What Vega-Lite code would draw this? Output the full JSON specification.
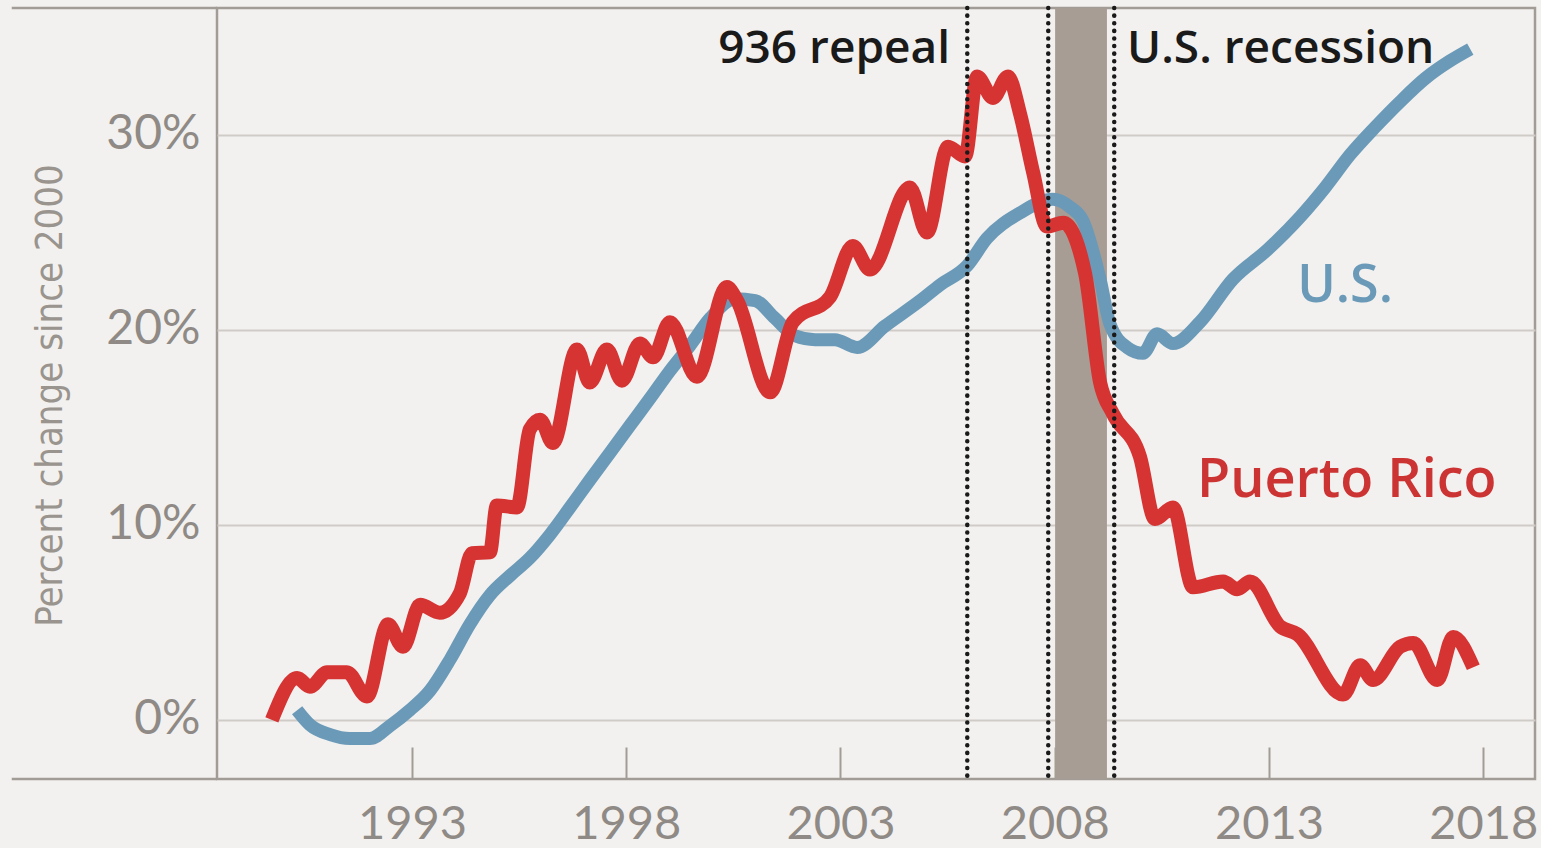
{
  "$schema": "https://vega.github.io/schema/vega-lite/v6.json",
  "width": 1318,
  "height": 771,
  "autosize": {"type": "none"},
  "padding": {"left": 217, "top": 8, "right": 6, "bottom": 69},
  "background": "#f2f1ef",
  "config": {
    "view": {"stroke": "#a29c96", "strokeWidth": 2.5, "fill": "#f2f1ef"},
    "axis": {"labelFont": "Lato", "labelColor": "#8f8a85", "labelFontSize": 48}
  },
  "datasets": {
    "us": [
      {"year": 1990.32, "value": 0.5}, {"year": 1990.62, "value": -0.25}, {"year": 1991.09, "value": -0.75},
      {"year": 1991.55, "value": -0.95}, {"year": 1992.02, "value": -0.95}, {"year": 1992.49, "value": -0.3},
      {"year": 1992.95, "value": 0.5}, {"year": 1993.42, "value": 1.5}, {"year": 1993.89, "value": 3.1},
      {"year": 1994.35, "value": 4.9}, {"year": 1994.82, "value": 6.4}, {"year": 1995.29, "value": 7.4},
      {"year": 1995.75, "value": 8.3}, {"year": 1996.22, "value": 9.5}, {"year": 1996.69, "value": 10.9},
      {"year": 1997.15, "value": 12.3}, {"year": 1997.62, "value": 13.7}, {"year": 1998.09, "value": 15.1},
      {"year": 1998.56, "value": 16.5}, {"year": 1999.02, "value": 17.9}, {"year": 1999.49, "value": 19.2},
      {"year": 1999.96, "value": 20.6}, {"year": 2000.54, "value": 21.6}, {"year": 2001.01, "value": 21.5},
      {"year": 2001.47, "value": 20.6}, {"year": 2001.94, "value": 19.7}, {"year": 2002.41, "value": 19.5},
      {"year": 2002.87, "value": 19.5}, {"year": 2003.39, "value": 19.1}, {"year": 2004.04, "value": 20.2},
      {"year": 2004.86, "value": 21.5}, {"year": 2005.32, "value": 22.3}, {"year": 2005.96, "value": 23.3},
      {"year": 2006.42, "value": 24.7}, {"year": 2007.19, "value": 26.0}, {"year": 2007.96, "value": 26.7},
      {"year": 2008.36, "value": 26.3}, {"year": 2008.66, "value": 25.6}, {"year": 2009.06, "value": 22.6},
      {"year": 2009.29, "value": 20.3}, {"year": 2009.69, "value": 19.1}, {"year": 2010.06, "value": 18.8},
      {"year": 2010.39, "value": 19.8}, {"year": 2010.76, "value": 19.3}, {"year": 2011.39, "value": 20.4},
      {"year": 2012.16, "value": 22.6}, {"year": 2012.96, "value": 24.1}, {"year": 2013.73, "value": 25.8},
      {"year": 2014.31, "value": 27.3}, {"year": 2014.9, "value": 29.0}, {"year": 2015.48, "value": 30.4},
      {"year": 2016.06, "value": 31.7}, {"year": 2016.65, "value": 32.9}, {"year": 2017.23, "value": 33.8},
      {"year": 2017.7, "value": 34.4}
    ],
    "pr": [
      {"year": 1989.73, "value": 0}, {"year": 1990.32, "value": 2.15}, {"year": 1990.62, "value": 1.7},
      {"year": 1991.02, "value": 2.45}, {"year": 1991.48, "value": 2.45}, {"year": 1991.95, "value": 1.2},
      {"year": 1992.44, "value": 4.9}, {"year": 1992.79, "value": 3.75}, {"year": 1993.19, "value": 5.9},
      {"year": 1993.65, "value": 5.5}, {"year": 1994.12, "value": 6.5}, {"year": 1994.4, "value": 8.55},
      {"year": 1994.82, "value": 8.6}, {"year": 1994.98, "value": 11.0}, {"year": 1995.45, "value": 10.9},
      {"year": 1995.75, "value": 14.9}, {"year": 1995.99, "value": 15.4}, {"year": 1996.29, "value": 14.2},
      {"year": 1996.85, "value": 19.0}, {"year": 1997.15, "value": 17.3}, {"year": 1997.55, "value": 19.0},
      {"year": 1997.9, "value": 17.4}, {"year": 1998.32, "value": 19.3}, {"year": 1998.63, "value": 18.6},
      {"year": 1999.02, "value": 20.4}, {"year": 1999.65, "value": 17.6}, {"year": 2000.35, "value": 22.2},
      {"year": 2000.59, "value": 21.5}, {"year": 2001.36, "value": 16.8}, {"year": 2001.89, "value": 20.4},
      {"year": 2002.76, "value": 21.7}, {"year": 2003.29, "value": 24.3}, {"year": 2003.69, "value": 23.1},
      {"year": 2004.62, "value": 27.3}, {"year": 2005.02, "value": 25.0}, {"year": 2005.51, "value": 29.4},
      {"year": 2005.91, "value": 28.9}, {"year": 2006.19, "value": 33.0}, {"year": 2006.56, "value": 31.9},
      {"year": 2006.91, "value": 33.0}, {"year": 2007.19, "value": 31.1}, {"year": 2007.5, "value": 28.05},
      {"year": 2007.82, "value": 25.3}, {"year": 2008.2, "value": 25.5}, {"year": 2008.71, "value": 22.9},
      {"year": 2009.06, "value": 17.3}, {"year": 2009.36, "value": 15.7}, {"year": 2009.99, "value": 13.5},
      {"year": 2010.34, "value": 10.3}, {"year": 2010.76, "value": 10.9}, {"year": 2011.23, "value": 6.8},
      {"year": 2011.93, "value": 7.1}, {"year": 2012.26, "value": 6.7}, {"year": 2012.56, "value": 7.1},
      {"year": 2013.26, "value": 4.8}, {"year": 2013.66, "value": 4.4}, {"year": 2014.73, "value": 1.3},
      {"year": 2015.13, "value": 2.8}, {"year": 2015.43, "value": 2.05}, {"year": 2016.06, "value": 3.75},
      {"year": 2016.37, "value": 3.95}, {"year": 2016.93, "value": 2.05}, {"year": 2017.3, "value": 4.25},
      {"year": 2017.77, "value": 2.7}
    ],
    "recession": [{"start": 2008.01, "end": 2009.22}],
    "events": [{"year": 2005.96}, {"year": 2007.85}, {"year": 2009.39}],
    "one": [{}]
  },
  "layer": [
    {
      "data": {"name": "recession"},
      "mark": {"type": "rect", "color": "#a89d94"},
      "encoding": {
        "x": {"field": "start", "type": "quantitative", "scale": {"domain": [1988.45, 2019.21], "nice": false, "zero": false},
          "axis": {"values": [1993, 1998, 2003, 2008, 2013, 2018], "format": "d", "title": null, "grid": false, "domain": false,
            "ticks": true, "tickSize": -32, "tickColor": "#a29c96", "tickWidth": 2, "labelPadding": 54, "labelFontSize": 47}},
        "x2": {"field": "end"}
      }
    },
    {
      "data": {"name": "us"},
      "mark": {"type": "line", "color": "#6b9ab8", "strokeWidth": 13, "interpolate": "monotone", "strokeCap": "butt", "strokeJoin": "round"},
      "encoding": {
        "x": {"field": "year", "type": "quantitative", "scale": {"domain": [1988.45, 2019.21], "nice": false, "zero": false}},
        "y": {"field": "value", "type": "quantitative", "scale": {"domain": [-3.03, 36.51], "nice": false, "zero": false},
          "axis": {"values": [0, 10, 20, 30], "labelExpr": "datum.value + '%'", "ticks": false, "domain": false, "grid": true,
            "gridColor": "#cfcbc7", "gridWidth": 2, "labelPadding": 17, "labelFontSize": 48,
            "title": "Percent change since 2000", "titleFont": "DejaVu Sans Condensed, Liberation Sans Narrow, sans-serif",
            "titleFontSize": 38, "titleFontWeight": "normal", "titleColor": "#9a948e", "titleAngle": -90,
            "titleX": -167, "titleY": 387, "titleAlign": "center", "titleBaseline": "middle"}}
      }
    },
    {
      "data": {"name": "pr"},
      "mark": {"type": "line", "color": "#d63333", "strokeWidth": 14, "interpolate": "monotone", "strokeCap": "butt", "strokeJoin": "round"},
      "encoding": {
        "x": {"field": "year", "type": "quantitative", "scale": {"domain": [1988.45, 2019.21], "nice": false, "zero": false}},
        "y": {"field": "value", "type": "quantitative", "scale": {"domain": [-3.03, 36.51], "nice": false, "zero": false}}
      }
    },
    {
      "data": {"name": "events"},
      "mark": {"type": "rule", "color": "#1a1a1a", "strokeWidth": 4.5, "strokeDash": [0.1, 7.5], "strokeCap": "round"},
      "encoding": {
        "x": {"field": "year", "type": "quantitative", "scale": {"domain": [1988.45, 2019.21], "nice": false, "zero": false}}
      }
    },
    {
      "data": {"name": "one"},
      "mark": {"type": "rule", "color": "#a29c96", "strokeWidth": 2.5},
      "encoding": {
        "x": {"datum": 1983.66, "type": "quantitative"},
        "x2": {"datum": 1988.45},
        "y": {"datum": 36.51, "type": "quantitative"}
      }
    },
    {
      "data": {"name": "one"},
      "mark": {"type": "rule", "color": "#a29c96", "strokeWidth": 2.5},
      "encoding": {
        "x": {"datum": 1983.66, "type": "quantitative"},
        "x2": {"datum": 1988.45},
        "y": {"datum": -3.03, "type": "quantitative"}
      }
    },
    {
      "data": {"name": "one"},
      "mark": {"type": "text", "text": "936 repeal", "font": "Open Sans", "fontSize": 46, "fontWeight": 600, "color": "#1a1a1a", "align": "right", "baseline": "alphabetic"},
      "encoding": {"x": {"datum": 2005.56, "type": "quantitative"}, "y": {"datum": 33.7, "type": "quantitative"}}
    },
    {
      "data": {"name": "one"},
      "mark": {"type": "text", "text": "U.S. recession", "font": "Open Sans", "fontSize": 46, "fontWeight": 600, "color": "#1a1a1a", "align": "left", "baseline": "alphabetic"},
      "encoding": {"x": {"datum": 2009.69, "type": "quantitative"}, "y": {"datum": 33.7, "type": "quantitative"}}
    },
    {
      "data": {"name": "one"},
      "mark": {"type": "text", "text": "U.S.", "font": "Open Sans", "fontSize": 52, "fontWeight": 600, "color": "#6a9ab8", "align": "left", "baseline": "alphabetic"},
      "encoding": {"x": {"datum": 2013.66, "type": "quantitative"}, "y": {"datum": 21.44, "type": "quantitative"}}
    },
    {
      "data": {"name": "one"},
      "mark": {"type": "text", "text": "Puerto Rico", "font": "Open Sans", "fontSize": 54, "fontWeight": 600, "color": "#cc3333", "align": "left", "baseline": "alphabetic"},
      "encoding": {"x": {"datum": 2011.32, "type": "quantitative"}, "y": {"datum": 11.44, "type": "quantitative"}}
    }
  ]
}
